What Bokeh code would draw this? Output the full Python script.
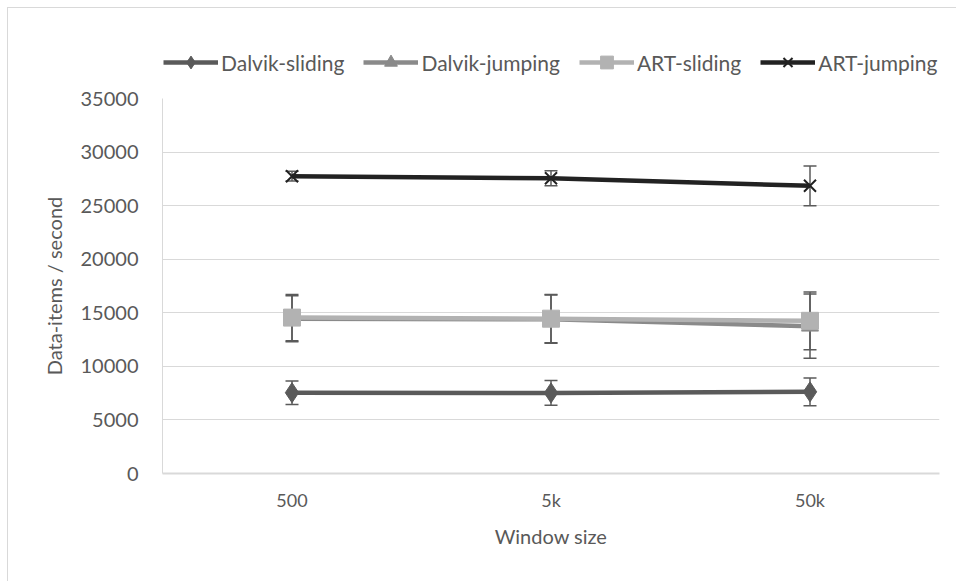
from bokeh.plotting import figure
from bokeh.layouts import column
from bokeh.models import (ColumnDataSource, FactorRange, Range1d, FixedTicker,
                          Whisker, TeeHead, Legend, LegendItem)
from bokeh.embed import file_html
from bokeh.resources import INLINE

# Throughput per window size (data-items / second) with error margins
window_sizes = ["500", "5k", "50k"]

dalvik_sliding = [7540, 7520, 7620]
dalvik_sliding_err = [1100, 1150, 1300]

dalvik_jumping = [14450, 14400, 13750]
dalvik_jumping_err = [2150, 2250, 3000]

art_sliding = [14550, 14450, 14250]
art_sliding_err = [2150, 2250, 2700]

art_jumping = [27750, 27550, 26850]
art_jumping_err = [450, 700, 1850]

y_ticks = [0, 5000, 10000, 15000, 20000, 25000, 30000, 35000]

series = [
    ("Dalvik-sliding", dalvik_sliding, dalvik_sliding_err, "#5a5a5a", "diamond", 20),
    ("Dalvik-jumping", dalvik_jumping, dalvik_jumping_err, "#8a8a8a", "triangle", 17),
    ("ART-sliding", art_sliding, art_sliding_err, "#b2b2b2", "square", 17),
    ("ART-jumping", art_jumping, art_jumping_err, "#222222", "x", 17),
]

FONT = "Lato"
TEXT = "#595959"
GRID = "#d9d9d9"


def add_series(fig, xs, ys, color, marker, size):
    src = ColumnDataSource(dict(x=xs, y=ys))
    ln = fig.line("x", "y", source=src, line_color=color, line_width=4.5)
    if marker == "x":
        mk = fig.scatter("x", "y", source=src, marker="x", size=size,
                         line_color=color, line_width=2)
    else:
        mk = fig.scatter("x", "y", source=src, marker=marker, size=size,
                         fill_color=color, line_color=color)
    return ln, mk


# ---- main chart ----
p = figure(
    x_range=FactorRange(*window_sizes, range_padding=0),
    y_range=Range1d(0, 35000),
    width=948, height=503,
    output_backend="svg", toolbar_location=None,
    min_border_left=154, min_border_right=17,
    min_border_top=20, min_border_bottom=108,
)
p.outline_line_color = None
p.background_fill_color = "white"
p.border_fill_color = "white"

p.yaxis.ticker = FixedTicker(ticks=y_ticks)
p.yaxis.axis_label = "Data-items / second"
p.xaxis.axis_label = "Window size"
for ax in (p.xaxis[0], p.yaxis[0]):
    ax.axis_line_color = GRID
    ax.axis_line_width = 1
    ax.major_tick_line_color = None
    ax.minor_tick_line_color = None
    ax.major_tick_out = 0
    ax.major_tick_in = 0
    ax.major_label_text_font = FONT
    ax.major_label_text_color = TEXT
    ax.axis_label_text_font = FONT
    ax.axis_label_text_color = TEXT
    ax.axis_label_text_font_style = "normal"
    ax.axis_label_text_font_size = "20px"
p.yaxis.major_label_text_font_size = "20px"
p.yaxis.major_label_standoff = 24
p.yaxis.axis_label_standoff = 12
p.xaxis.major_label_text_font_size = "18px"
p.xaxis.major_label_standoff = 15
p.xaxis.axis_label_standoff = 10
p.xaxis.axis_line_width = 2

p.xgrid.grid_line_color = None
p.ygrid.grid_line_color = GRID
p.ygrid.grid_line_width = 1

# error bars
for name, vals, errs, color, marker, size in series:
    src = ColumnDataSource(dict(
        x=window_sizes,
        upper=[v + e for v, e in zip(vals, errs)],
        lower=[v - e for v, e in zip(vals, errs)],
    ))
    w = Whisker(source=src, base="x", upper="upper", lower="lower",
                line_color="#5a5a5a", line_width=1.5,
                upper_head=TeeHead(size=13, line_color="#5a5a5a", line_width=1.5),
                lower_head=TeeHead(size=13, line_color="#5a5a5a", line_width=1.5))
    p.add_layout(w)

for name, vals, errs, color, marker, size in series:
    add_series(p, window_sizes, vals, color, marker, size)

# ---- legend strip above the chart (its sample glyphs sit outside its view) ----
lg = figure(
    x_range=Range1d(0, 1), y_range=Range1d(0, 1),
    width=948, height=70,
    output_backend="svg", toolbar_location=None,
    x_axis_type=None, y_axis_type=None,
    min_border_left=0, min_border_right=0, min_border_top=0, min_border_bottom=0,
)
lg.outline_line_color = None
lg.xgrid.grid_line_color = None
lg.ygrid.grid_line_color = None
lg.background_fill_color = "white"
lg.border_fill_color = "white"

items = []
for name, vals, errs, color, marker, size in series:
    ln, mk = add_series(lg, [-10], [-10], color, marker, size)
    items.append(LegendItem(label=name, renderers=[ln, mk]))

legend = Legend(items=items, orientation="horizontal", location=(1, 0),
                glyph_width=55, glyph_height=32, label_standoff=3, spacing=19,
                padding=0, margin=0,
                label_text_font=FONT, label_text_font_size="21px",
                label_text_color=TEXT,
                border_line_color=None, background_fill_alpha=0)
lg.add_layout(legend, "center")

page = column(lg, p, spacing=0, margin=(7, 0, 0, 7),
              styles={"border-top": "1px solid #d9d9d9",
                      "border-left": "1px solid #d9d9d9"})

open("out.html", "w").write(file_html(page, INLINE))
